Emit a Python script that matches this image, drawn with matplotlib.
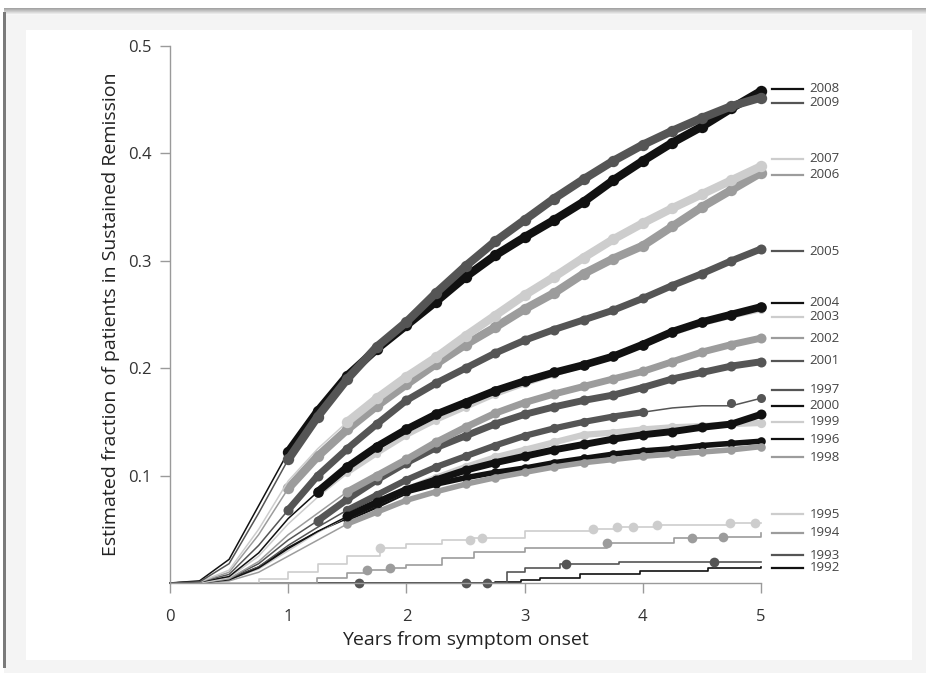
import matplotlib
matplotlib.use("Agg")
import matplotlib.pyplot as plt
from matplotlib.patches import Rectangle
from matplotlib.lines import Line2D
from matplotlib.transforms import Bbox, TransformedBbox
import numpy as np

plt.rcParams['font.family'] = ['Open Sans', 'DejaVu Sans']

# ---------------- data ----------------
years_grid = [0, 0.25, 0.5, 0.75, 1, 1.25, 1.5, 1.75, 2, 2.25, 2.5,
              2.75, 3, 3.25, 3.5, 3.75, 4, 4.25, 4.5, 4.75, 5]

y2008 = [0, 0.002, 0.022, 0.072, 0.122, 0.16, 0.193, 0.218, 0.24, 0.262, 0.285,
         0.305, 0.322, 0.338, 0.355, 0.375, 0.393, 0.41, 0.425, 0.442, 0.458]
y2009 = [0, 0.001, 0.018, 0.065, 0.115, 0.155, 0.19, 0.22, 0.243, 0.27, 0.295,
         0.318, 0.338, 0.358, 0.376, 0.393, 0.408, 0.421, 0.433, 0.444, 0.452]
y2007 = [0, 0.001, 0.012, 0.05, 0.095, 0.125, 0.15, 0.172, 0.192, 0.21, 0.23,
         0.249, 0.268, 0.285, 0.303, 0.32, 0.335, 0.349, 0.362, 0.375, 0.388]
y2006 = [0, 0.001, 0.01, 0.045, 0.088, 0.118, 0.143, 0.165, 0.185, 0.204, 0.222,
         0.238, 0.255, 0.27, 0.288, 0.302, 0.314, 0.332, 0.35, 0.366, 0.382]
y2005 = [0, 0.001, 0.008, 0.035, 0.068, 0.1, 0.125, 0.148, 0.17, 0.186, 0.2,
         0.214, 0.226, 0.236, 0.245, 0.254, 0.265, 0.277, 0.288, 0.3, 0.311]
y2004 = [0, 0.001, 0.006, 0.028, 0.06, 0.085, 0.108, 0.127, 0.143, 0.157, 0.168,
         0.179, 0.188, 0.196, 0.203, 0.211, 0.222, 0.234, 0.243, 0.25, 0.257]
y2003 = [0, 0, 0.005, 0.025, 0.055, 0.08, 0.102, 0.12, 0.137, 0.151, 0.163,
         0.175, 0.185, 0.194, 0.202, 0.211, 0.221, 0.232, 0.241, 0.248, 0.254]
y2002 = [0, 0, 0.004, 0.02, 0.045, 0.065, 0.085, 0.1, 0.115, 0.131, 0.145,
         0.158, 0.168, 0.176, 0.183, 0.19, 0.197, 0.206, 0.215, 0.222, 0.228]
y2001 = [0, 0, 0.004, 0.018, 0.04, 0.058, 0.078, 0.096, 0.112, 0.126, 0.137,
         0.148, 0.157, 0.164, 0.17, 0.175, 0.182, 0.19, 0.196, 0.202, 0.206]
y2000 = [0, 0, 0.003, 0.014, 0.032, 0.048, 0.062, 0.075, 0.087, 0.096, 0.105,
         0.112, 0.118, 0.124, 0.129, 0.134, 0.138, 0.141, 0.145, 0.148, 0.157]
y1999 = [0, 0, 0.003, 0.013, 0.03, 0.047, 0.062, 0.075, 0.087, 0.098, 0.108,
         0.117, 0.124, 0.131, 0.138, 0.14, 0.143, 0.145, 0.146, 0.148, 0.149]
y1998 = [0, 0, 0.002, 0.01, 0.025, 0.04, 0.055, 0.066, 0.077, 0.085, 0.092,
         0.098, 0.103, 0.108, 0.112, 0.115, 0.118, 0.12, 0.122, 0.124, 0.127]
y1997 = [0, 0, 0.003, 0.015, 0.035, 0.052, 0.068, 0.082, 0.096, 0.108, 0.118,
         0.128, 0.137, 0.144, 0.15, 0.155, 0.159, 0.163, 0.165, 0.165, 0.172]
y1996 = [0, 0, 0.004, 0.015, 0.033, 0.048, 0.06, 0.072, 0.085, 0.092, 0.098,
         0.103, 0.107, 0.112, 0.116, 0.12, 0.123, 0.125, 0.128, 0.13, 0.132]

# sparse early cohorts (step curves with own event times)
x1995 = [0, 0.57, 0.75, 1.0, 1.25, 1.5, 1.78, 2.0, 2.3, 2.55, 3.0, 3.58, 3.78, 4.1, 4.74, 5.0]
y1995 = [0, 0.0, 0.004, 0.01, 0.018, 0.025, 0.033, 0.036, 0.04, 0.042, 0.048, 0.05, 0.052, 0.054, 0.056, 0.056]
dots1995 = [1.78, 2.54, 2.64, 3.58, 3.78, 3.92, 4.12, 4.74, 4.95]
x1994 = [0, 0.87, 1.24, 1.5, 1.67, 1.86, 2.0, 2.3, 2.57, 3.0, 3.7, 4.26, 4.68, 5.0]
y1994 = [0, 0, 0.005, 0.009, 0.012, 0.014, 0.017, 0.023, 0.029, 0.033, 0.037, 0.042, 0.043, 0.047]
dots1994 = [1.67, 1.86, 3.7, 4.42, 4.68]
x1993 = [0, 2.78, 2.85, 3.0, 3.3, 3.8, 5.0]
y1993 = [0, 0, 0.01, 0.014, 0.018, 0.02, 0.02]
dots1993 = [1.6, 2.5, 2.68, 3.35, 4.6]
x1992 = [0, 2.75, 2.97, 3.13, 3.47, 3.98, 4.55, 5.0]
y1992 = [0, 0.001, 0.003, 0.005, 0.008, 0.011, 0.014, 0.015]

cohorts = ['1992', '1993', '1994', '1995', '1996', '1997', '1998', '1999', '2000',
           '2001', '2002', '2003', '2004', '2005', '2006', '2007', '2008', '2009']

# label order / vertical positions at right (data units)
label_pos = {'2008': 0.460, '2009': 0.447, '2007': 0.395, '2006': 0.380,
             '2005': 0.309, '2004': 0.261, '2003': 0.248, '2002': 0.228,
             '2001': 0.207, '1997': 0.180, '2000': 0.165, '1999': 0.150,
             '1996': 0.134, '1998': 0.117, '1995': 0.064, '1994': 0.047,
             '1993': 0.026, '1992': 0.014}

# ---------------- style ----------------
shade = ['#111111', '#555555', '#9c9c9c', '#cdcdcd']   # 1992 black, 1993 dark, 1994 mid, 1995 light ...
def col(year):
    return shade[(int(year) - 1992) % 4]

grid_series = {'1996': y1996, '1997': y1997, '1998': y1998, '1999': y1999,
               '2000': y2000, '2001': y2001, '2002': y2002, '2003': y2003,
               '2004': y2004, '2005': y2005, '2006': y2006, '2007': y2007,
               '2008': y2008, '2009': y2009}
# where the dense censor dots form a band (x start, x end, band width pt)
band = {'2008': (0.85, 5, 6.0), '2009': (0.8, 5, 6.0), '2007': (1.3, 5, 6.0),
        '2006': (1.0, 5, 6.0), '2005': (1.0, 5, 5.0), '2004': (1.1, 5, 5.5),
        '2003': (1.5, 5, 3.0), '2002': (1.3, 5, 5.0), '2001': (1.2, 5, 5.0),
        '2000': (1.3, 5, 5.0), '1999': (1.5, 5, 4.5), '1998': (1.5, 5, 4.0),
        '1997': (1.3, 4.1, 4.5), '1996': (1.5, 5, 4.0)}

fig = plt.figure(figsize=(9.26, 6.73), dpi=100)
fig.patch.set_facecolor('white')

W, H = 926.0, 673.0
def frect(x0, y0, x1, y1, **kw):
    r = Rectangle((x0 / W, 1 - y1 / H), (x1 - x0) / W, (y1 - y0) / H,
                  transform=fig.transFigure, zorder=-10, **kw)
    fig.patches.append(r)

# outer panel with shadow
for i, a in enumerate(np.linspace(0.55, 0.05, 7)):
    frect(4, 8 + i, 926, 9 + i, facecolor=(0.35, 0.35, 0.35, a), edgecolor='none')
frect(4, 15, 926, 673, facecolor='#f4f4f4', edgecolor='none')
frect(3, 12, 6, 668, facecolor='#7a7a7a', edgecolor='none')
frect(26, 30, 912, 660, facecolor='white', edgecolor='none')

ax = fig.add_axes([170 / W, (673 - 583) / H, 591 / W, 537 / H])
ax.set_zorder(5)
ax.set_facecolor('none')
ax.set_xlim(0, 5)
ax.set_ylim(0, 0.5)

xg = np.array(years_grid)
for yr in cohorts:
    c = col(yr)
    if yr in grid_series:
        yv = np.array(grid_series[yr])
        ax.plot(xg, yv, color=c, lw=1.1, clip_on=False, solid_joinstyle='round')
        b0, b1, bw = band[yr]
        m = (xg >= b0) & (xg <= b1)
        ax.plot(xg[m], yv[m], color=c, lw=bw, solid_capstyle='round',
                solid_joinstyle='round', clip_on=False)
        ax.plot(xg[m], yv[m], 'o', color=c, ms=bw + 2.2, mec='none', clip_on=False)
        if yr == '1997':
            ax.plot([4.75, 5.0], [y1997[-2] + 0.003, y1997[-1]], 'o', color=c,
                    ms=6.5, mec='none', clip_on=False)
    else:
        xs, ys, dots = {'1995': (x1995, y1995, dots1995),
                        '1994': (x1994, y1994, dots1994),
                        '1993': (x1993, y1993, dots1993),
                        '1992': (x1992, y1992, [])}[yr]
        ax.step(xs, ys, where='post', color=c, lw=1.2, clip_on=False)
        if dots:
            dy = [ys[max(0, np.searchsorted(xs, d, side='right') - 1)] for d in dots]
            ax.plot(dots, dy, 'o', color=c, ms=7, mec='none', clip_on=False)

# right-hand labels
clip_box = TransformedBbox(Bbox([[0, 0], [839 / W, 1]]), fig.transFigure)
for yr, yp in label_pos.items():
    c = col(yr)
    ax.add_line(Line2D([5.093, 5.355], [yp, yp], color=c, lw=1.6, clip_on=False))
    t = ax.text(5.41, yp, yr, color='#444444', fontsize=9.5, va='center', ha='left')
    t.set_clip_on(True)
    t.set_clip_box(clip_box)

# axes styling
for s in ['top', 'right']:
    ax.spines[s].set_visible(False)
for s in ['left', 'bottom']:
    ax.spines[s].set_color('#9a9a9a')
    ax.spines[s].set_linewidth(1.0)
ax.set_xticks([0, 1, 2, 3, 4, 5])
ax.set_yticks([0.1, 0.2, 0.3, 0.4, 0.5])
ax.set_yticklabels(['0.1', '0.2', '0.3', '0.4', '0.5'])
ax.tick_params(axis='both', colors='#9a9a9a', length=7, width=1.0,
               labelcolor='#333333', labelsize=12, pad=6)
ax.tick_params(axis='x', pad=12)
ax.set_xlabel('Years from symptom onset', fontsize=14, color='#222222', labelpad=4)
ax.set_ylabel('Estimated fraction of patients in Sustained Remission',
              fontsize=14, color='#222222', labelpad=6)

fig.savefig('out.png', dpi=100, facecolor=fig.get_facecolor())
